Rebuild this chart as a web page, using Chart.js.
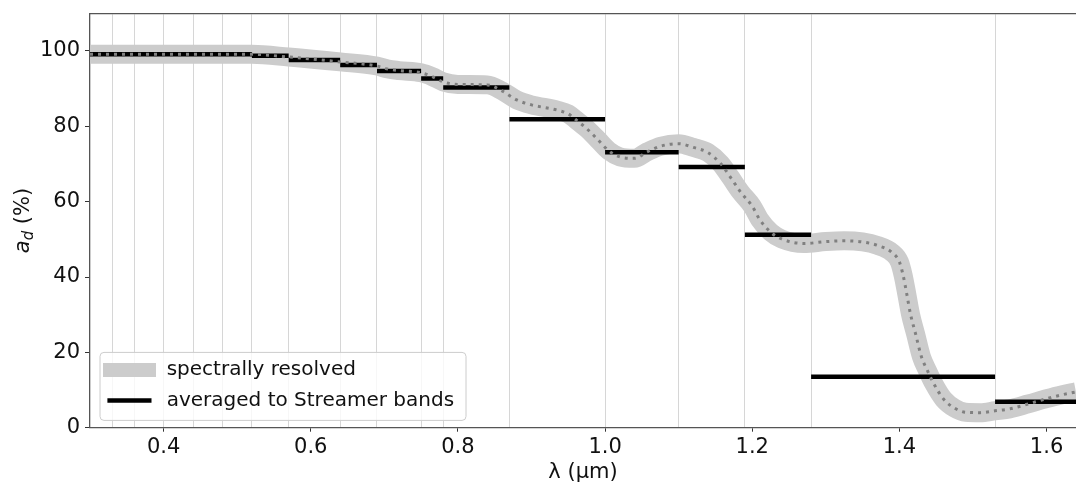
<!DOCTYPE html>
<html>
<head>
<meta charset="utf-8">
<script src="https://cdn.jsdelivr.net/npm/chart.js@4.4.1/dist/chart.umd.min.js"></script>
<style>
  html, body { margin: 0; padding: 0; background: #fff; }
</style>
</head>
<body>
<canvas id="albedo" width="1076" height="485"></canvas>
<script>
// spectrally resolved albedo (%)
const wavelength = [0.30, 0.40, 0.52, 0.57, 0.64, 0.69, 0.705, 0.72, 0.75, 0.765, 0.78, 0.80, 0.84, 0.86,
  0.88, 0.90, 0.935, 0.95, 0.96, 0.975, 0.99, 1.005, 1.02, 1.04, 1.057, 1.075, 1.10, 1.12, 1.14,
  1.157, 1.17, 1.184, 1.20, 1.21, 1.225, 1.24, 1.27, 1.30, 1.325, 1.35, 1.37, 1.39, 1.40, 1.405,
  1.41, 1.415, 1.422, 1.43, 1.438, 1.447, 1.46, 1.475, 1.49, 1.51, 1.53, 1.55, 1.575, 1.60, 1.62, 1.64];
const spectralAlbedo = [99.1, 99.1, 99.1, 98.4, 97.1, 96.0, 95.2, 94.8, 94.2, 93.2, 91.8, 91.1, 91.0, 89.4,
  87.0, 85.7, 84.3, 83.3, 81.8, 79.4, 76.5, 73.5, 71.9, 71.5, 73.2, 74.7, 75.4, 74.4, 73.0,
  70.1, 66.6, 62.6, 58.8, 55.3, 51.9, 50.1, 48.9, 49.4, 49.6, 49.3, 48.4, 46.5, 44.0, 40.5,
  35.5, 30.2, 24.9, 18.8, 15.2, 11.6, 7.6, 5.2, 4.1, 4.0, 4.5, 5.0, 6.3, 7.7, 8.7, 9.5];

// Streamer shortwave band edges (um) and band-averaged albedo (%)
const bandEdges = [0.30, 0.33, 0.36, 0.40, 0.44, 0.48, 0.52, 0.57, 0.64, 0.69, 0.75, 0.78, 0.87,
  1.00, 1.10, 1.19, 1.28, 1.53, 1.64];
const bandAlbedo = [99.1, 99.1, 99.1, 99.1, 99.1, 99.1, 98.7, 97.6, 96.3, 94.7, 92.7, 90.3, 81.9,
  73.1, 69.2, 51.2, 13.5, 6.9];

const xTicks = [0.4, 0.6, 0.8, 1.0, 1.2, 1.4, 1.6];
const yTicks = [0, 20, 40, 60, 80, 100];

const FONT = 'DejaVu Sans';
const GREY_BAND = '#cccccc';

const curve = wavelength.map((w, i) => ({ x: w, y: spectralAlbedo[i] }));

// one flat segment per band, broken by a null point
const steps = [];
for (let i = 0; i < bandAlbedo.length; i++) {
  steps.push({ x: bandEdges[i], y: bandAlbedo[i] });
  steps.push({ x: bandEdges[i + 1], y: bandAlbedo[i] });
  steps.push({ x: bandEdges[i + 1], y: null });
}

// fixed axis boxes so the plot frame lands where we want it
function fixBox(size) {
  return s => {
    if (s.isHorizontal()) s.height = size; else s.width = size;
    s.paddingTop = 0; s.paddingBottom = 0; s.paddingLeft = 0; s.paddingRight = 0;
  };
}

const overlay = {
  id: 'overlay',
  afterDraw(chart) {
    const ctx = chart.ctx;
    const a = chart.chartArea;
    ctx.save();

    // x title
    ctx.fillStyle = '#111';
    ctx.font = '21px "' + FONT + '"';
    ctx.textAlign = 'center';
    ctx.textBaseline = 'alphabetic';
    ctx.fillText('λ (µm)', (a.left + a.right) / 2, 478);

    // y title: italic a with subscript d
    ctx.save();
    ctx.translate(29, (a.top + a.bottom) / 2);
    ctx.rotate(-Math.PI / 2);
    ctx.textAlign = 'left';
    const big = 'italic 21px "' + FONT + '"';
    const sub = 'italic 15px "' + FONT + '"';
    const norm = '21px "' + FONT + '"';
    ctx.font = big; const wa = ctx.measureText('a').width;
    ctx.font = sub; const wd = ctx.measureText('d').width;
    ctx.font = norm; const wr = ctx.measureText(' (%)').width;
    let x0 = -(wa + wd + wr) / 2;
    ctx.font = big; ctx.fillText('a', x0, 0); x0 += wa;
    ctx.font = sub; ctx.fillText('d', x0, 4); x0 += wd;
    ctx.font = norm; ctx.fillText(' (%)', x0, 0);
    ctx.restore();

    // legend box
    const bx = a.left + 10, by = a.bottom - 75.3, bw = 366, bh = 68;
    ctx.beginPath();
    ctx.roundRect(bx, by, bw, bh, 4);
    ctx.fillStyle = 'rgba(255,255,255,0.8)';
    ctx.fill();
    ctx.strokeStyle = '#cccccc';
    ctx.lineWidth = 1;
    ctx.stroke();

    const row1 = by + 17.6, row2 = by + 48.2;
    ctx.lineCap = 'butt';
    ctx.strokeStyle = GREY_BAND;
    ctx.lineWidth = 14;
    ctx.beginPath(); ctx.moveTo(bx + 3, row1); ctx.lineTo(bx + 56, row1); ctx.stroke();
    ctx.strokeStyle = '#000';
    ctx.lineWidth = 4.5;
    ctx.beginPath(); ctx.moveTo(bx + 7.4, row2); ctx.lineTo(bx + 51.5, row2); ctx.stroke();

    ctx.fillStyle = '#111';
    ctx.font = '20px "' + FONT + '"';
    ctx.textAlign = 'left';
    ctx.textBaseline = 'middle';
    ctx.fillText('spectrally resolved', bx + 66.7, row1);
    ctx.fillText('averaged to Streamer bands', bx + 66.7, row2);
    ctx.restore();
  }
};

new Chart(document.getElementById('albedo'), {
  type: 'line',
  data: {
    datasets: [
      {
        label: 'spectrally resolved',
        data: curve,
        borderColor: '#808080',
        borderWidth: 3,
        borderDash: [3, 5],
        pointRadius: 0,
        cubicInterpolationMode: 'monotone',
        order: 0
      },
      {
        label: 'averaged to Streamer bands',
        data: steps,
        borderColor: '#000',
        borderWidth: 4.5,
        pointRadius: 0,
        spanGaps: false,
        order: 1
      },
      {
        label: 'spectrally resolved',
        data: curve,
        borderColor: GREY_BAND,
        borderWidth: 19,
        borderJoinStyle: 'round',
        pointRadius: 0,
        cubicInterpolationMode: 'monotone',
        order: 2
      }
    ]
  },
  options: {
    responsive: false,
    animation: false,
    devicePixelRatio: 1,
    layout: { padding: 0 },
    plugins: { legend: { display: false }, tooltip: { enabled: false } },
    scales: {
      x: {
        type: 'linear',
        position: 'bottom',
        min: 0.3,
        max: 1.64,
        afterBuildTicks: s => { s.ticks = xTicks.map(v => ({ value: v })); },
        afterFit: fixBox(57.3),
        grid: { drawOnChartArea: false, tickLength: 4, tickColor: '#333', tickWidth: 1 },
        border: { color: '#555', width: 1.3 },
        ticks: {
          padding: 3.5,
          color: '#111',
          font: { family: FONT, size: 21 },
          maxRotation: 0,
          callback: v => v.toFixed(1)
        }
      },
      bands: {
        type: 'linear',
        position: 'top',
        min: 0.3,
        max: 1.64,
        afterBuildTicks: s => { s.ticks = bandEdges.slice(1, -1).map(v => ({ value: v })); },
        afterFit: fixBox(13.3),
        grid: { color: '#d6d6d6', lineWidth: 1, drawTicks: false },
        border: { color: '#555', width: 1.3 },
        ticks: { display: false }
      },
      y: {
        type: 'linear',
        min: 0,
        max: 110,
        afterBuildTicks: s => { s.ticks = yTicks.map(v => ({ value: v })); },
        afterFit: fixBox(90),
        grid: { drawOnChartArea: false, tickLength: 5, tickColor: '#333', tickWidth: 1 },
        border: { color: '#555', width: 1.3 },
        ticks: {
          padding: 5,
          color: '#111',
          font: { family: FONT, size: 21 }
        }
      }
    }
  },
  plugins: [overlay]
});
</script>
</body>
</html>
